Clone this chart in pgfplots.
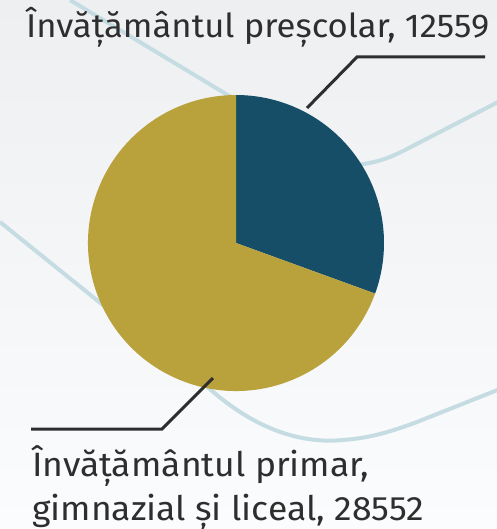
\documentclass[border=0pt]{standalone}
\usepackage{pgfplots}
\usepackage{pgfplotstable}
\pgfplotsset{compat=1.18}
\usepgflibrary{fpu}
\usepackage{fontspec}
\setmainfont{Fira Sans}[FakeStretch=1.05]
\definecolor{pieblue}{HTML}{164E68}
\definecolor{piegold}{HTML}{B9A13C}
\definecolor{deco}{HTML}{C5DCE2}
\definecolor{txt}{HTML}{2E2E2E}
\definecolor{bgtop}{HTML}{EEEFF1}
\definecolor{bgbot}{HTML}{FBFCFD}
\pgfplotstableread{
label value
prescolar 12559
primar 28552
}\pietable
\begin{document}
\begin{tikzpicture}
\pgfplotstablegetelem{0}{value}\of\pietable \let\va\pgfplotsretval
\pgfplotstablegetelem{1}{value}\of\pietable \let\vb\pgfplotsretval
\begingroup
\pgfkeys{/pgf/fpu=true,/pgf/fpu/output format=fixed}
\pgfmathparse{90-360*\va/(\va+\vb)}
\xdef\endA{\pgfmathresult}
\endgroup
\begin{axis}[
  width=497bp, height=529bp, scale only axis,
  xmin=0, xmax=497, ymin=0, ymax=529, y dir=reverse,
  hide axis, clip=true,
]
\fill[top color=bgtop, bottom color=bgbot] (axis cs:0,0) rectangle (axis cs:497,529);
% decorative lines
\draw[deco, line width=4bp] (axis cs:70,0) -- (axis cs:236,100);
\draw[deco, line width=4bp] (axis cs:0,222) -- (axis cs:150,343);
\draw[deco, line width=4bp] (axis cs:330,166) .. controls (axis cs:370,166) and (axis cs:385,160) .. (axis cs:405,150) -- (axis cs:500,101);
\draw[deco, line width=4bp] (axis cs:195,375) .. controls (axis cs:240,420) and (axis cs:290,445) .. (axis cs:343,440) .. controls (axis cs:370,438) and (axis cs:390,432) .. (axis cs:417,422) -- (axis cs:500,389);
% pie
\fill[pieblue] (axis cs:236,243) -- ++(90:148bp) arc[start angle=90, end angle=\endA, radius=148bp] -- cycle;
\fill[piegold] (axis cs:236,243) -- ++(\endA:148bp) arc[start angle=\endA, end angle=-270, radius=148bp] -- cycle;
% leaders
\draw[txt, line width=3bp] (axis cs:307,108) -- (axis cs:357,57) -- (axis cs:485,57);
\draw[txt, line width=3bp] (axis cs:213,378) -- (axis cs:162,429) -- (axis cs:31,429);
% labels
\node[anchor=base west, inner sep=0, text=txt, font=\fontsize{33bp}{38bp}\selectfont] at (axis cs:26,38) {Învățământul preșcolar, 12559};
\node[anchor=base west, inner sep=0, text=txt, font=\fontsize{33.8bp}{44bp}\selectfont, align=left] at (axis cs:32,520) {Învățământul primar,\\gimnazial și liceal, 28552};
\end{axis}
\end{tikzpicture}
\end{document}
